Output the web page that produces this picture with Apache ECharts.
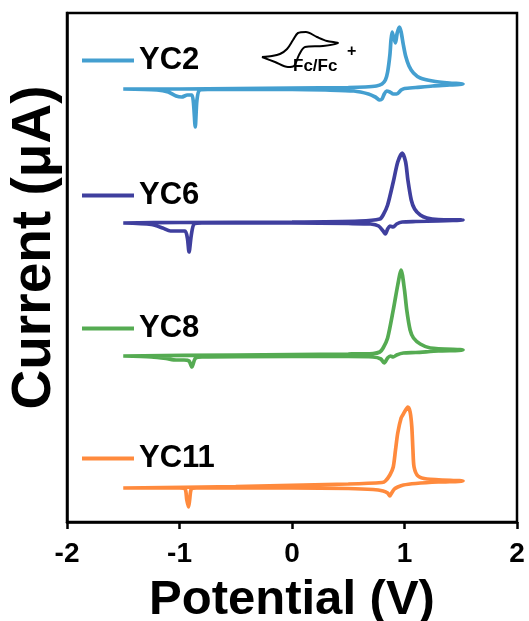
<!DOCTYPE html>
<html>
<head>
<meta charset="utf-8">
<script src="https://cdn.jsdelivr.net/npm/echarts@6/dist/echarts.min.js"></script>
<style>
  html, body { margin: 0; padding: 0; background: #fff; }
  #chart { width: 529px; height: 621px; }
</style>
</head>
<body>
<div id="chart"></div>
<script>
// Cyclic voltammograms: each loop runs -1.5 V -> 1.5 V (upper branch) and back (lower branch).
// Currents are in arbitrary units; each trace is stacked on its own vertical offset.
const names = ['YC2', 'YC6', 'YC8', 'YC11'];
const colors = ['#449fd0', '#3f3f9e', '#55ab52', '#ff8a3d'];
const offsets = [433, 299, 166, 34];

const yc2Potential = [-1.5, -1.0, -0.5, 0.0, 0.5, 0.65, 0.75, 0.80, 0.83, 0.85, 0.87, 0.88, 0.89, 0.905, 0.92, 0.935, 0.955, 0.97, 0.99, 1.01, 1.04, 1.08, 1.14, 1.25, 1.40, 1.52,
  1.40, 1.25, 1.10, 1.00, 0.97, 0.93, 0.90, 0.87, 0.84, 0.82, 0.80, 0.78, 0.74, 0.68, 0.55, 0.30, 0.0, -0.5, -0.75, -0.82, -0.845, -0.86, -0.875, -0.89, -0.93, -0.98, -1.03, -1.10, -1.20, -1.5];
const yc2Current = [0, 0, 0.5, 1, 1.5, 2, 3, 5, 9, 17, 34, 49, 57, 51, 46, 56, 62, 57, 44, 33, 23, 16, 11, 8, 6, 5,
  4, 3, 1.5, 0.5, -1, -5, -5, -3, -2, -5, -10, -11, -8, -5, -2, -1, -0.5, -0.5, -0.5, -1, -11, -38, -15, -6, -6, -8, -7, -3, -1, 0];

const yc6Potential = [-1.5, -1.0, 0.0, 0.6, 0.78, 0.81, 0.85, 0.90, 0.94, 0.98, 1.01, 1.03, 1.06, 1.09, 1.14, 1.20, 1.30, 1.52,
  1.30, 1.10, 0.98, 0.93, 0.90, 0.87, 0.85, 0.83, 0.81, 0.77, 0.70, 0.5, 0.0, -0.8, -0.87, -0.895, -0.915, -0.93, -0.95, -1.0, -1.08, -1.15, -1.25, -1.5];
const yc6Current = [0, 0.5, 1, 2, 4, 8, 18, 41, 61, 70, 61, 43, 23, 14, 8, 5, 3.5, 3,
  2, 1.5, 1, -1, -4, -3, -6, -11, -8, -3, -1, -0.5, 0, 0, -1, -12, -29, -15, -8, -8, -8, -5, -1.5, 0];

const yc8Potential = [-1.5, -0.5, 0.5, 0.72, 0.78, 0.81, 0.85, 0.90, 0.94, 0.97, 1.00, 1.02, 1.05, 1.08, 1.14, 1.23, 1.52,
  1.30, 1.10, 0.99, 0.93, 0.90, 0.875, 0.85, 0.82, 0.79, 0.72, 0.5, 0.0, -0.8, -0.86, -0.89, -0.915, -0.96, -1.03, -1.12, -1.25, -1.5];
const yc8Current = [0, 1, 2, 2.5, 4, 8, 18, 46, 71, 86, 66, 46, 26, 18, 12, 8, 6,
  5, 3.5, 3, 1, -1, 0, -2, -7, -3, -1, -0.5, -0.5, -1, -2.5, -11, -5, -4, -4, -2.5, -1, 0];

const yc11Potential = [-1.5, -0.5, 0.5, 0.80, 0.83, 0.87, 0.90, 0.92, 0.94, 0.97, 0.99, 1.03, 1.05, 1.065, 1.075, 1.085, 1.12, 1.20, 1.52,
  1.30, 1.10, 0.99, 0.94, 0.91, 0.88, 0.87, 0.85, 0.81, 0.72, 0.5, 0.0, -0.85, -0.895, -0.91, -0.92, -0.935, -0.95, -1.0, -1.5];
const yc11Current = [0, 1.5, 4, 5.5, 7, 13, 21, 38, 55, 70, 74, 81, 76, 61, 38, 21, 12, 9, 7,
  6, 4.5, 3, 1, -1, -6, -8, -5, -3, -1.5, -0.5, 0, 0, -1, -12, -19, -12, -1, 0, 0];

// Ferrocene reference loop shown as a small inset sketch
const fcPotential = [-0.267, -0.178, -0.107, -0.044, 0.009, 0.053, 0.124, 0.222, 0.311, 0.409,
  0.276, 0.116, 0.062, 0.018, -0.036, -0.151, -0.267];
const fcCurrent = [465, 466, 468, 473, 482, 489, 490, 485, 481, 479,
  476, 475, 467, 456, 455, 460, 465];

const xTicks = [-2, -1, 0, 1, 2];

const potentials = [yc2Potential, yc6Potential, yc8Potential, yc11Potential];
const currents = [yc2Current, yc6Current, yc8Current, yc11Current];

const FONT = '"Liberation Sans", Arial, sans-serif';

const series = names.map((name, i) => ({
  name: name,
  type: 'line',
  data: potentials[i].map((v, k) => [v, currents[i][k] + offsets[i]]),
  symbol: 'none',
  smooth: 0.25,
  lineStyle: { color: colors[i], width: 3.7 },
  itemStyle: { color: colors[i] },
  z: 3
}));
series.push({
  name: 'Fc/Fc+',
  type: 'line',
  data: fcPotential.map((v, k) => [v, fcCurrent[k]]),
  symbol: 'none',
  smooth: 0.3,
  lineStyle: { color: '#000', width: 2 },
  z: 3
});

const legendTops = [45, 180, 313, 443];
const legends = names.map((name, i) => ({
  data: [name],
  left: 82,
  top: legendTops[i],
  padding: 0,
  icon: 'rect',
  itemWidth: 52,
  itemHeight: 4,
  selectedMode: false,
  textStyle: { color: '#000', fontSize: 31, fontWeight: 'bold', fontFamily: FONT }
}));

const chart = echarts.init(document.getElementById('chart'), null, { renderer: 'canvas' });
chart.setOption({
  animation: false,
  backgroundColor: '#fff',
  grid: {
    left: 67, right: 12, top: 13, bottom: 99,
    outerBoundsMode: 'none',
    containLabel: false,
    show: true, borderColor: '#000', borderWidth: 2.5, backgroundColor: 'transparent'
  },
  legend: legends,
  xAxis: {
    type: 'value',
    min: xTicks[0],
    max: xTicks[xTicks.length - 1],
    interval: 1,
    name: 'Potential (V)',
    nameLocation: 'middle',
    nameGap: 54,
    nameTextStyle: { color: '#000', fontSize: 49, fontWeight: 'bold', fontFamily: FONT },
    axisLine: { onZero: false, lineStyle: { color: '#000', width: 2.5 } },
    axisTick: { show: true, length: 7, lineStyle: { color: '#000', width: 2.5 } },
    axisLabel: { color: '#000', fontSize: 28, fontWeight: 'bold', fontFamily: FONT, margin: 18 },
    splitLine: { show: false }
  },
  yAxis: {
    type: 'value',
    min: 0,
    max: 509,
    name: 'Current (\u03bcA)',
    nameLocation: 'middle',
    nameGap: 5,
    nameRotate: 90,
    nameTextStyle: { color: '#000', fontSize: 55, fontWeight: 'bold', fontFamily: FONT, padding: [0, 0, 0, 40] },
    axisLine: { onZero: false, lineStyle: { color: '#000', width: 2.5 } },
    axisTick: { show: false },
    axisLabel: { show: false },
    splitLine: { show: false }
  },
  graphic: [
    { type: 'text', left: 293, top: 58, style: { text: 'Fc/Fc', fill: '#000', font: 'bold 17px ' + FONT } },
    { type: 'text', left: 347, top: 44, style: { text: '+', fill: '#000', font: 'bold 16px ' + FONT } }
  ],
  series: series
});
</script>
</body>
</html>
